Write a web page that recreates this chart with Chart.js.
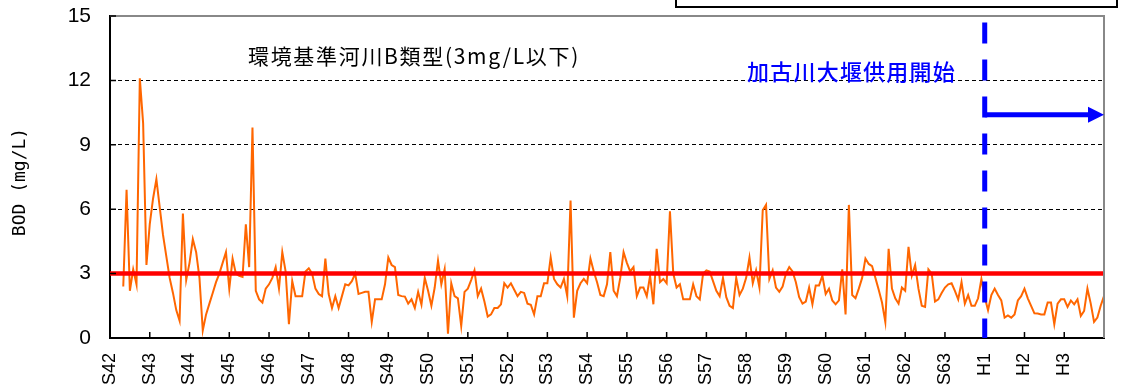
<!DOCTYPE html>
<html lang="ja">
<head>
<meta charset="utf-8">
<title>BOD 経年変化</title>
<script src="https://cdn.jsdelivr.net/npm/chart.js@4.4.1/dist/chart.umd.min.js"></script>
<style>
    html, body { margin: 0; padding: 0; background: #fff; }
    #wrap { position: relative; width: 1123px; height: 391px; }
</style>
</head>
<body>
<div id="wrap">
    <canvas id="bodChart" width="1123" height="391"></canvas>
</div>
<script>
// year labels on the x axis (one tick every 12 months)
const yearLabels = ['S42', 'S43', 'S44', 'S45', 'S46', 'S47', 'S48', 'S49', 'S50', 'S51',
    'S52', 'S53', 'S54', 'S55', 'S56', 'S57', 'S58', 'S59', 'S60', 'S61',
    'S62', 'S63', 'H1', 'H2', 'H3'];
const monthsPerYear = 12;
const totalMonths = 300;

// monthly BOD (mg/L), first value is month 4 counted from the S42 tick
const firstMonth = 4;
const bodMonthly = [
    2.4, 6.9, 2.2, 3.2, 2.5, 12.1, 10.0, 3.4,
    5.3, 6.5, 7.4, 6.1, 4.8, 3.8, 2.8, 2.1, 1.3, 0.8, 5.8, 2.7,
    3.5, 4.6, 4.0, 2.8, 0.35, 1.1, 1.6, 2.1, 2.6, 3.0, 3.5, 4.0,
    2.3, 3.7, 3.0, 2.9, 2.85, 5.3, 3.3, 9.8, 2.2, 1.8, 1.65, 2.3,
    2.5, 2.8, 3.3, 2.3, 4.0, 3.1, 0.64, 2.65, 1.95, 1.95, 1.95, 3.1,
    3.25, 3.0, 2.3, 2.05, 1.95, 3.7, 2.05, 1.4, 1.95, 1.4, 1.95, 2.5,
    2.45, 2.65, 3.0, 2.05, 2.1, 2.15, 2.15, 0.75, 1.8, 1.8, 1.8, 2.5,
    3.75, 3.4, 3.3, 2.0, 1.95, 1.93, 1.6, 1.8, 1.4, 2.15, 1.55, 2.8,
    2.2, 1.5, 2.35, 3.6, 2.5, 3.2, 0.2, 2.55, 1.95, 1.85, 0.56, 2.15,
    2.3, 2.7, 3.15, 1.95, 2.3, 1.7, 1.0, 1.1, 1.4, 1.4, 1.57, 2.55,
    2.35, 2.55, 2.25, 1.95, 2.15, 2.1, 1.6, 1.55, 1.1, 1.95, 1.95, 2.55,
    2.55, 3.75, 2.75, 2.5, 2.35, 2.75, 1.95, 6.4, 0.95, 2.2, 2.55, 2.75,
    2.55, 3.7, 3.1, 2.6, 2.0, 1.95, 2.5, 4.0, 2.2, 1.95, 2.8, 4.0,
    3.5, 3.1, 3.3, 1.95, 2.35, 2.35, 1.95, 2.9, 1.57, 4.15, 2.6, 2.75,
    2.55, 5.9, 3.0, 2.35, 2.5, 1.8, 1.8, 1.8, 2.5, 1.95, 1.8, 3.0,
    3.15, 3.1, 2.65, 2.2, 1.95, 2.8, 1.9, 1.5, 1.4, 2.8, 2.0, 2.3,
    2.8, 3.75, 2.55, 3.15, 2.35, 5.95, 6.2, 2.75, 3.15, 2.35, 2.15, 2.4,
    3.0, 3.3, 3.1, 2.6, 1.9, 1.6, 1.7, 2.35, 1.57, 2.45, 2.45, 2.9,
    2.05, 2.3, 1.75, 1.57, 1.75, 3.2, 1.1, 6.2, 2.0, 1.85, 2.3, 2.8,
    3.7, 3.45, 3.35, 2.8, 2.25, 1.65, 0.75, 4.15, 2.3, 1.85, 1.6, 2.35,
    2.2, 4.25, 2.9, 3.4, 2.3, 1.5, 1.45, 3.2, 3.0, 1.7, 1.8, 2.1,
    2.35, 2.5, 2.55, 2.2, 1.8, 2.6, 1.6, 2.0, 1.5, 1.5, 1.85, 2.75,
    1.9, 1.3, 2.0, 2.3, 2.0, 1.75, 0.95, 1.05, 0.95, 1.1, 1.75, 1.95,
    2.3, 1.85, 1.5, 1.15, 1.14, 1.1, 1.1, 1.65, 1.65, 0.64, 1.6, 1.8,
    1.8, 1.45, 1.75, 1.57, 1.8, 1.03, 1.26, 2.3, 1.6, 0.75, 0.95, 1.5,
    1.95
];

// y axis ticks and reference values
const yTickValues = [0, 3, 6, 9, 12, 15];
const standardValue = 3;
const standardText = '環境基準河川B類型(3mg/L以下)';
const damText = '加古川大堰供用開始';
const damMonth = 264;      // H1
const damLineTop = 14.7;
const arrowLevel = 10.4;

const bodPoints = bodMonthly.map((v, i) => ({ x: firstMonth + i, y: v }));
const standardPoints = [{ x: 0, y: standardValue }, { x: totalMonths, y: standardValue }];

const JP_FONT = '"Noto Sans CJK JP", "Noto Sans", sans-serif';

// frame, inner ticks and the annotations
const annotationPlugin = {
    id: 'annotations',
    afterDatasetsDraw(chart) {
        const ctx = chart.ctx;
        const area = chart.chartArea;
        const xs = chart.scales.x;
        const ys = chart.scales.y;

        ctx.save();
        // grey frame at top and right
        ctx.strokeStyle = '#888';
        ctx.lineWidth = 2;
        ctx.beginPath();
        ctx.moveTo(area.left, area.top);
        ctx.lineTo(area.right, area.top);
        ctx.lineTo(area.right, area.bottom);
        ctx.stroke();

        // inner tick marks
        ctx.strokeStyle = '#000';
        ctx.lineWidth = 1.5;
        ctx.beginPath();
        for (let i = 1; i < yearLabels.length; i++) {
            const px = xs.getPixelForValue(i * monthsPerYear);
            ctx.moveTo(px, area.bottom);
            ctx.lineTo(px, area.bottom - 6);
        }
        yTickValues.slice(1).forEach(v => {
            const py = ys.getPixelForValue(v);
            ctx.moveTo(area.left, py);
            ctx.lineTo(area.left + 6, py);
        });
        ctx.stroke();

        // dam start: dashed blue line and arrow
        const dx = xs.getPixelForValue(damMonth);
        ctx.strokeStyle = '#0000FF';
        ctx.fillStyle = '#0000FF';
        ctx.lineWidth = 5;
        ctx.setLineDash([21, 16]);
        ctx.beginPath();
        ctx.moveTo(dx, ys.getPixelForValue(damLineTop));
        ctx.lineTo(dx, ys.getPixelForValue(0));
        ctx.stroke();
        ctx.setLineDash([]);

        const ay = ys.getPixelForValue(arrowLevel);
        ctx.beginPath();
        ctx.moveTo(dx, ay);
        ctx.lineTo(area.right - 14, ay);
        ctx.stroke();
        ctx.beginPath();
        ctx.moveTo(area.right, ay);
        ctx.lineTo(area.right - 16, ay - 8);
        ctx.lineTo(area.right - 16, ay + 8);
        ctx.closePath();
        ctx.fill();

        // texts
        ctx.textBaseline = 'middle';
        ctx.textAlign = 'left';
        ctx.font = '500 22px ' + JP_FONT;
        ctx.fillStyle = '#0000FF';
        fitText(ctx, damText, 747, 72, 209);

        ctx.font = '21px ' + JP_FONT;
        ctx.fillStyle = '#000';
        fitText(ctx, standardText, 248, 56, 332);

        // y axis title
        ctx.save();
        ctx.translate(20, 182);
        ctx.rotate(-Math.PI / 2);
        ctx.textAlign = 'center';
        ctx.font = '18px "DejaVu Sans Mono", monospace';
        ctx.fillText('BOD (mg/L)', 0, 0);
        ctx.restore();

        // edge of the box above the plot
        ctx.strokeStyle = '#000';
        ctx.lineWidth = 2;
        ctx.beginPath();
        ctx.moveTo(676, 0);
        ctx.lineTo(676, 7);
        ctx.lineTo(1117, 7);
        ctx.lineTo(1117, 0);
        ctx.stroke();
        ctx.restore();
    }
};

// spread a text over a given width with letter spacing
function fitText(ctx, text, x, y, width) {
    ctx.letterSpacing = '0px';
    const w = ctx.measureText(text).width;
    const spacing = (width - w) / text.length;
    ctx.letterSpacing = spacing.toFixed(2) + 'px';
    ctx.fillText(text, x, y);
    ctx.letterSpacing = '0px';
}

new Chart(document.getElementById('bodChart'), {
    type: 'line',
    data: {
        datasets: [
            {
                label: '環境基準',
                data: standardPoints,
                borderColor: '#FF0000',
                borderWidth: 4.5,
                pointRadius: 0,
                order: 1
            },
            {
                label: 'BOD',
                data: bodPoints,
                borderColor: '#FF6600',
                borderWidth: 2,
                pointRadius: 0,
                tension: 0,
                order: 2
            }
        ]
    },
    options: {
        responsive: false,
        animation: false,
        layout: {
            padding: { top: 16, right: 19, left: 0, bottom: 0 }
        },
        plugins: {
            legend: { display: false },
            tooltip: { enabled: false }
        },
        scales: {
            x: {
                type: 'linear',
                min: 0,
                max: totalMonths,
                afterBuildTicks: scale => {
                    scale.ticks = yearLabels.map((_, i) => ({ value: i * monthsPerYear }));
                },
                afterFit: scale => {
                    scale.height = 53;
                    scale.paddingLeft = 0;
                    scale.paddingRight = 0;
                },
                ticks: {
                    autoSkip: false,
                    minRotation: 90,
                    maxRotation: 90,
                    padding: 15,
                    color: '#000',
                    font: { family: 'Liberation Sans', size: 18 },
                    callback: value => yearLabels[value / monthsPerYear] || ''
                },
                grid: { display: false, drawTicks: false },
                border: { color: '#000', width: 2 }
            },
            y: {
                min: 0,
                max: 15,
                afterBuildTicks: scale => {
                    scale.ticks = yTickValues.map(v => ({ value: v }));
                },
                afterFit: scale => {
                    scale.width = 110;
                    scale.paddingTop = 0;
                    scale.paddingBottom = 0;
                },
                ticks: {
                    padding: 19,
                    color: '#000',
                    font: { family: 'Liberation Sans', size: 21 }
                },
                grid: {
                    drawTicks: false,
                    lineWidth: 1,
                    color: c => (c.tick && c.tick.value > 0 && c.tick.value < 15) ? '#000' : 'rgba(0,0,0,0)'
                },
                border: { color: '#000', width: 2, dash: [4, 3] }
            }
        }
    },
    plugins: [annotationPlugin]
});
</script>
</body>
</html>
